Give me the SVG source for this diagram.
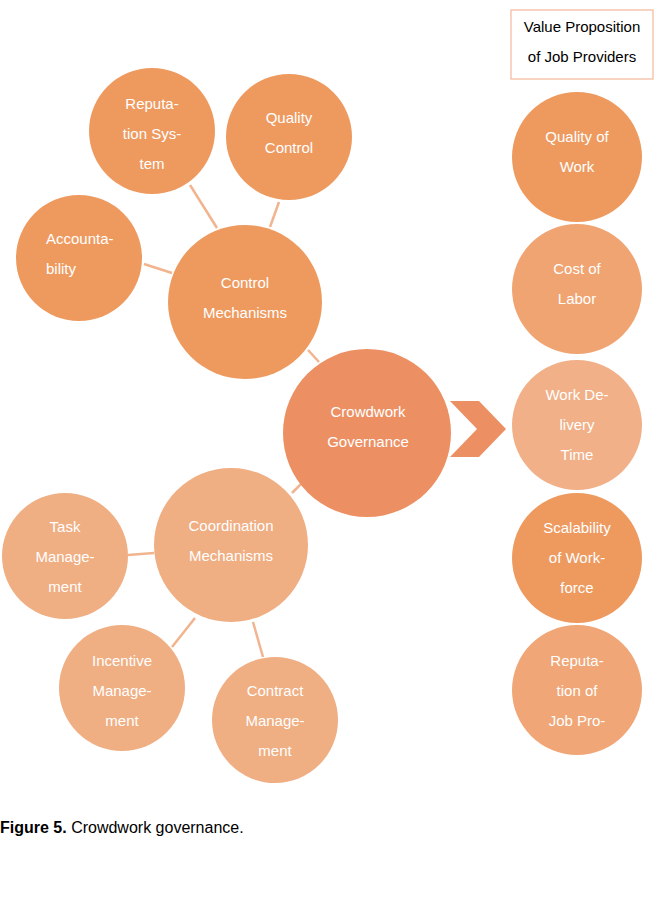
<svg xmlns="http://www.w3.org/2000/svg" width="655" height="909" viewBox="0 0 655 909">
<style>
.t{font-family:"Liberation Sans",Arial,sans-serif;font-size:15px;fill:#ffffff;text-anchor:middle}
.tl{text-anchor:start}
.c1{fill:#EE9A5F}
.c2{fill:#EC9063}
.c3{fill:#F0AE83}
.c4{fill:#F0A472}
.c5{fill:#F1B088}
.c6{fill:#F0A676}
.ln{stroke:#F1B48E;stroke-width:2.5;fill:none}
.k{font-family:"Liberation Sans",Arial,sans-serif;font-size:15px;fill:#000;text-anchor:middle}
</style>
<rect width="655" height="909" fill="#ffffff"/>
<g id="connectors">
<line class="ln" x1="190" y1="185" x2="217" y2="228"/>
<line class="ln" x1="279" y1="202" x2="270" y2="227"/>
<line class="ln" x1="144" y1="264" x2="172" y2="273"/>
<line class="ln" x1="308" y1="350" x2="319" y2="362"/>
<line class="ln" x1="292" y1="493" x2="302" y2="483"/>
<line class="ln" x1="128" y1="555" x2="154" y2="553"/>
<line class="ln" x1="172" y1="647" x2="195" y2="618"/>
<line class="ln" x1="263" y1="657" x2="253" y2="622"/>
<polygon fill="#EC9063" points="450,401 479,401 506,429 479,457 450,457 477,429"/>
</g>
<g id="reputation-system"><circle class="c1" cx="152" cy="131" r="63"/>
<text class="t" x="152" y="109">Reputa-</text><text class="t" x="152" y="139">tion Sys-</text><text class="t" x="152" y="169">tem</text></g>
<g id="quality-control"><circle class="c1" cx="289" cy="137" r="63"/>
<text class="t" x="289" y="123">Quality</text><text class="t" x="289" y="153">Control</text></g>
<g id="accountability"><circle class="c1" cx="79" cy="258" r="63"/>
<text class="t tl" x="46" y="244">Accounta-</text><text class="t tl" x="46" y="274">bility</text></g>
<g id="control-mechanisms"><circle class="c1" cx="245" cy="302" r="77"/>
<text class="t" x="245" y="288">Control</text><text class="t" x="245" y="318">Mechanisms</text></g>
<g id="crowdwork-governance"><circle class="c2" cx="367" cy="433" r="84"/>
<text class="t" x="368" y="417">Crowdwork</text><text class="t" x="368" y="447">Governance</text></g>
<g id="coordination-mechanisms"><circle class="c3" cx="231" cy="545" r="77"/>
<text class="t" x="231" y="531">Coordination</text><text class="t" x="231" y="561">Mechanisms</text></g>
<g id="task-management"><circle class="c3" cx="65" cy="556" r="63"/>
<text class="t" x="65" y="532">Task</text><text class="t" x="65" y="562">Manage-</text><text class="t" x="65" y="592">ment</text></g>
<g id="incentive-management"><circle class="c3" cx="122" cy="688" r="63"/>
<text class="t" x="122" y="666">Incentive</text><text class="t" x="122" y="696">Manage-</text><text class="t" x="122" y="726">ment</text></g>
<g id="contract-management"><circle class="c3" cx="275" cy="720" r="63"/>
<text class="t" x="275" y="696">Contract</text><text class="t" x="275" y="726">Manage-</text><text class="t" x="275" y="756">ment</text></g>
<g id="value-proposition"><rect x="511" y="10" width="142" height="69" fill="#ffffff" stroke="#F4B79A" stroke-width="1.2"/>
<text class="k" x="582" y="32">Value Proposition</text><text class="k" x="582" y="62">of Job Providers</text></g>
<g id="quality-of-work"><circle class="c1" cx="577" cy="157" r="65"/>
<text class="t" x="577" y="142">Quality of</text><text class="t" x="577" y="172">Work</text></g>
<g id="cost-of-labor"><circle class="c4" cx="577" cy="289" r="65"/>
<text class="t" x="577" y="274">Cost of</text><text class="t" x="577" y="304">Labor</text></g>
<g id="work-delivery-time"><circle class="c5" cx="577" cy="425" r="65"/>
<text class="t" x="577" y="400">Work De-</text><text class="t" x="577" y="430">livery</text><text class="t" x="577" y="460">Time</text></g>
<g id="scalability"><circle class="c1" cx="577" cy="558" r="65"/>
<text class="t" x="577" y="533">Scalability</text><text class="t" x="577" y="563">of Work-</text><text class="t" x="577" y="593">force</text></g>
<g id="reputation-job-providers"><circle class="c6" cx="577" cy="690" r="65"/>
<text class="t" x="577" y="666">Reputa-</text><text class="t" x="577" y="696">tion of</text><text class="t" x="577" y="726">Job Pro-</text></g>
<text x="0" y="833" font-family="'Liberation Sans',Arial,sans-serif" font-size="16" fill="#000"><tspan font-weight="bold">Figure 5.</tspan> Crowdwork governance.</text>
</svg>
